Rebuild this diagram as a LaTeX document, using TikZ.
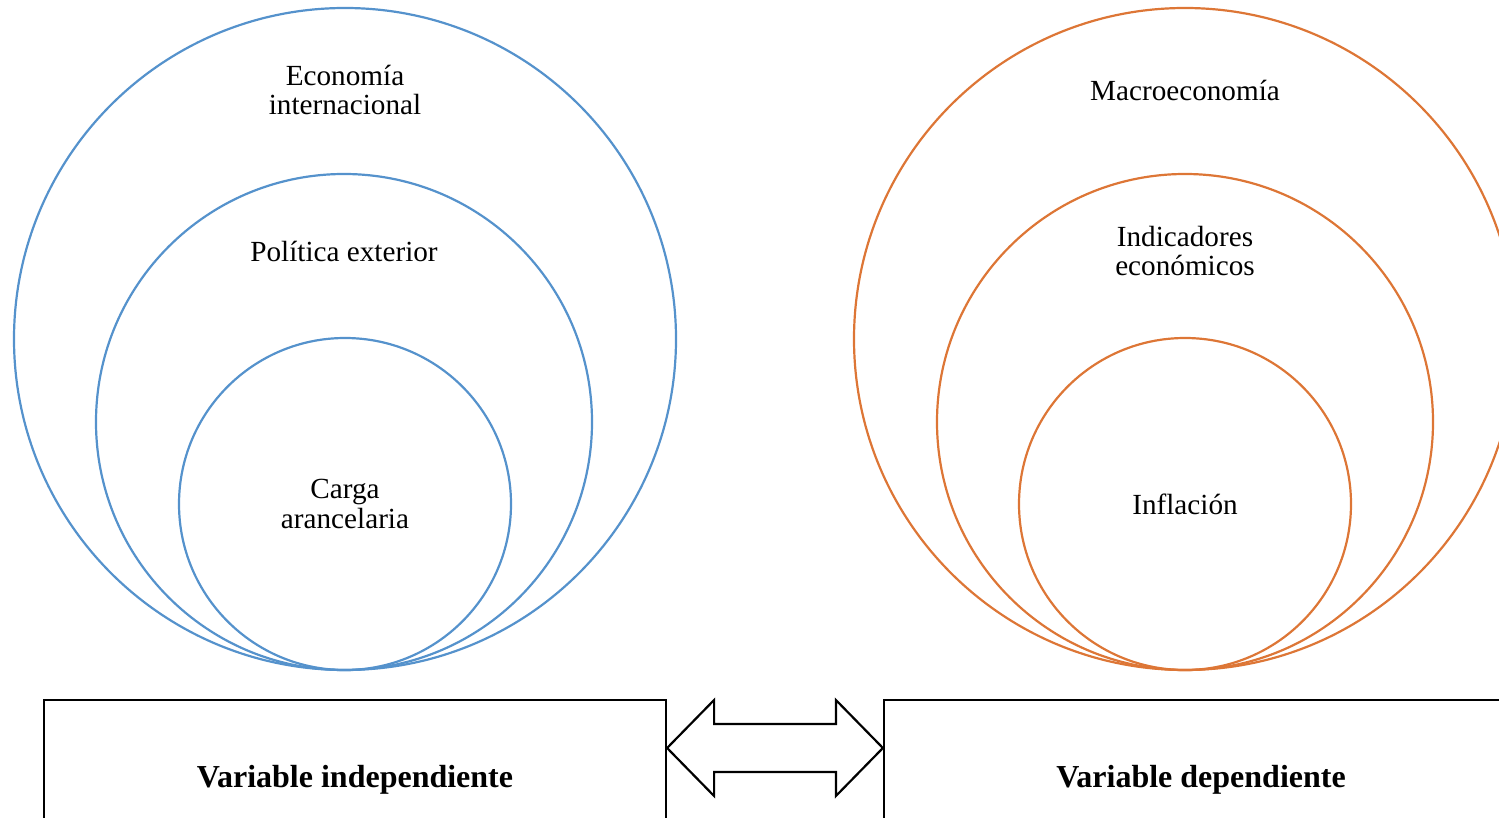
\documentclass[tikz,border=0pt]{standalone}
\usepackage{fontspec}
\setmainfont{Liberation Serif}
\usetikzlibrary{positioning,calc}
\definecolor{indep}{HTML}{5592CC}
\definecolor{dep}{HTML}{DD7636}

\begin{document}
\begin{tikzpicture}[x=0.5pt,y=-0.5pt,
  font=\fontsize{14.6}{14.8}\selectfont,
  ring/.style={circle,draw,line width=1.1pt,inner sep=0pt},
  lbl/.style={align=center,inner sep=0pt,text=black},
  varbox/.style={draw,line width=1.1pt,minimum height=80pt,inner sep=0pt,font=\fontsize{16}{18}\selectfont\bfseries},
  link/.style={draw,line width=1.1pt,line join=miter}]
\useasboundingbox (0,0) rectangle (1499,818);
% variable independiente
\node[ring,indep,minimum size=331pt] (ecoint) at (345,339) {};
\node[ring,indep,minimum size=248pt] (polext) at (344,422) {};
\node[ring,indep,minimum size=166pt] (carga) at (345,504) {};
\node[lbl] (ecoint-t) at (345,90) {Economía\\internacional};
\node[lbl] (polext-t) at (344,251) {Política exterior};
\node[lbl] (carga-t) at (345,504) {Carga\\arancelaria};
% variable dependiente
\node[ring,dep,minimum size=331pt] (macro) at (1185,339) {};
\node[ring,dep,minimum size=248pt] (indic) at (1185,422) {};
\node[ring,dep,minimum size=166pt] (infla) at (1185,504) {};
\node[lbl] (macro-t) at (1185,90) {Macroeconomía};
\node[lbl] (indic-t) at (1185,251) {Indicadores\\económicos};
\node[lbl] (infla-t) at (1185,504) {Inflación};
% cajas
\node[varbox,minimum width=311pt] (vind) at (355,780) {Variable independiente};
\node[varbox,minimum width=317pt] (vdep) at (1201,780) {Variable dependiente};
% flecha doble entre las cajas
\coordinate (tipl) at (vind.east |- 0,748);
\coordinate (tipr) at (vdep.west |- 0,748);
\draw[link] (tipl) -- ++(47,-48) -- ++(0,24) -- ($(tipr)+(-47,-24)$) -- ++(0,-24)
  -- (tipr) -- ++(-47,48) -- ++(0,-24) -- ($(tipl)+(47,24)$) -- ++(0,24) -- cycle;
\end{tikzpicture}
\end{document}
